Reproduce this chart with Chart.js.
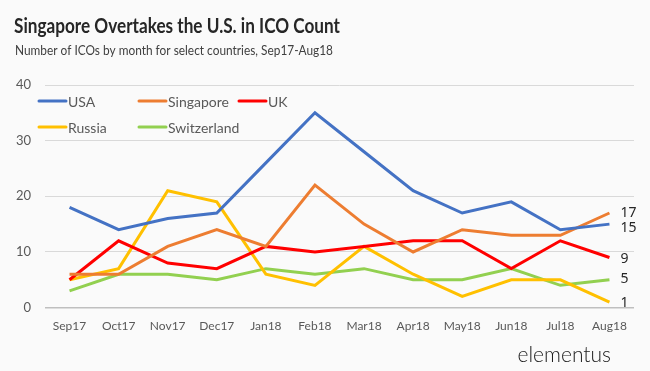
<!DOCTYPE html>
<html>
<head>
<meta charset="utf-8">
<script src="https://cdn.jsdelivr.net/npm/chart.js@4.4.0/dist/chart.umd.min.js"></script>
<style>
  html, body { margin: 0; padding: 0; background: #fafafa; }
  #wrap { width: 650px; height: 371px; position: relative; }
</style>
</head>
<body>
<div id="wrap"><canvas id="ico-chart" width="650" height="371"></canvas></div>
<script>
// Chart data
const months = ["Sep17", "Oct17", "Nov17", "Dec17", "Jan18", "Feb18", "Mar18", "Apr18", "May18", "Jun18", "Jul18", "Aug18"];
const usa = [18, 14, 16, 17, 26, 35, 28, 21, 17, 19, 14, 15];
const singapore = [6, 6, 11, 14, 11, 22, 15, 10, 14, 13, 13, 17];
const uk = [5, 12, 8, 7, 11, 10, 11, 12, 12, 7, 12, 9];
const russia = [5, 7, 21, 19, 6, 4, 11, 6, 2, 5, 5, 1];
const switzerland = [3, 6, 6, 5, 7, 6, 7, 5, 5, 7, 4, 5];
const yTicks = [0, 10, 20, 30, 40];

const seriesNames = ["USA", "Singapore", "UK", "Russia", "Switzerland"];
const seriesColors = ["#4472C4", "#ED7D31", "#FF0000", "#FFC000", "#92D050"];
const seriesValues = [usa, singapore, uk, russia, switzerland];
// small nudges so the end labels don't collide
const endLabelNudge = [4, 0, 2, 1, -1];

const titleText = "Singapore Overtakes the U.S. in ICO Count";
const subtitleText = "Number of ICOs by month for select countries, Sep17-Aug18";

// draw text squeezed to a given width (the original font is narrow)
const drawFitted = (ctx, text, x, y, width) => {
  const w = ctx.measureText(text).width;
  ctx.save();
  ctx.translate(x, y);
  ctx.scale(Math.min(1, width / w), 1);
  ctx.fillText(text, 0, 0);
  ctx.restore();
};

// Title, subtitle and logo text
const headerPlugin = {
  id: "header",
  beforeDraw(chart) {
    const ctx = chart.ctx;
    ctx.save();
    ctx.fillStyle = "#fafafa";
    ctx.fillRect(0, 0, chart.width, chart.height);
    ctx.textBaseline = "alphabetic";
    ctx.textAlign = "left";
    ctx.fillStyle = "#262626";
    ctx.font = "bold 20px Lato";
    drawFitted(ctx, titleText, 14, 33, 326);
    ctx.fillStyle = "#404040";
    ctx.font = "14px Lato";
    drawFitted(ctx, subtitleText, 15, 55, 318);
    ctx.fillStyle = "#1a1a1a";
    ctx.font = "300 21px Lato";
    ctx.textAlign = "right";
    ctx.fillText("elementus", 611, 362);
    ctx.restore();
  },
};

// Legend drawn inside the plot area, two rows
const innerLegendPlugin = {
  id: "innerLegend",
  afterDraw(chart) {
    const ctx = chart.ctx;
    const spots = [[39, 101], [139, 101], [239, 101], [39, 127], [139, 127]];
    ctx.save();
    ctx.font = "14px Lato";
    ctx.textBaseline = "middle";
    ctx.textAlign = "left";
    chart.data.datasets.forEach((ds, i) => {
      const [x, y] = spots[i];
      ctx.strokeStyle = ds.borderColor;
      ctx.lineWidth = 3;
      ctx.lineCap = "round";
      ctx.beginPath();
      ctx.moveTo(x, y);
      ctx.lineTo(x + 27, y);
      ctx.stroke();
      ctx.fillStyle = "#595959";
      ctx.fillText(ds.label, x + 29, y + 1);
    });
    ctx.restore();
  },
};

// Last value of each series written at the right end
const endLabelPlugin = {
  id: "endLabels",
  afterDatasetsDraw(chart) {
    const ctx = chart.ctx;
    ctx.save();
    ctx.font = "14px 'Noto Sans'";
    ctx.fillStyle = "#262626";
    ctx.textBaseline = "middle";
    ctx.textAlign = "left";
    chart.data.datasets.forEach((ds, i) => {
      const meta = chart.getDatasetMeta(i);
      const last = meta.data[meta.data.length - 1];
      ctx.fillText(String(ds.data[ds.data.length - 1]), last.x + 11, last.y + endLabelNudge[i]);
    });
    ctx.restore();
  },
};

const datasets = seriesNames.map((name, i) => ({
  label: name,
  data: seriesValues[i],
  borderColor: seriesColors[i],
  backgroundColor: seriesColors[i],
  borderWidth: 3,
  pointRadius: 0,
  tension: 0,
  fill: false,
}));

new Chart(document.querySelector("#ico-chart"), {
  type: "line",
  data: { labels: months, datasets: datasets },
  options: {
    responsive: false,
    animation: false,
    layout: { padding: { top: 85, right: 16, bottom: 27, left: 0 } },
    plugins: {
      legend: { display: false },
      title: { display: false },
      tooltip: { enabled: false },
    },
    scales: {
      x: {
        offset: true,
        grid: { display: false, drawTicks: false },
        border: { display: false },
        ticks: { color: "#595959", font: { family: "Lato", size: 12 }, padding: 11, maxRotation: 0, autoSkip: false },
      },
      y: {
        min: 0,
        max: 40,
        afterBuildTicks: (scale) => {
          scale.ticks = yTicks.map((v) => ({ value: v }));
        },
        afterFit: (scale) => {
          scale.width = 45;
        },
        grid: {
          drawTicks: false,
          color: (c) => (c.tick && c.tick.value === 0 ? "#bfbfbf" : "#d9d9d9"),
          lineWidth: (c) => (c.tick && c.tick.value === 0 ? 1.5 : 1),
        },
        border: { display: false },
        ticks: { color: "#595959", font: { family: "Lato", size: 13 }, padding: 14 },
      },
    },
  },
  plugins: [headerPlugin, innerLegendPlugin, endLabelPlugin],
});
</script>
</body>
</html>
